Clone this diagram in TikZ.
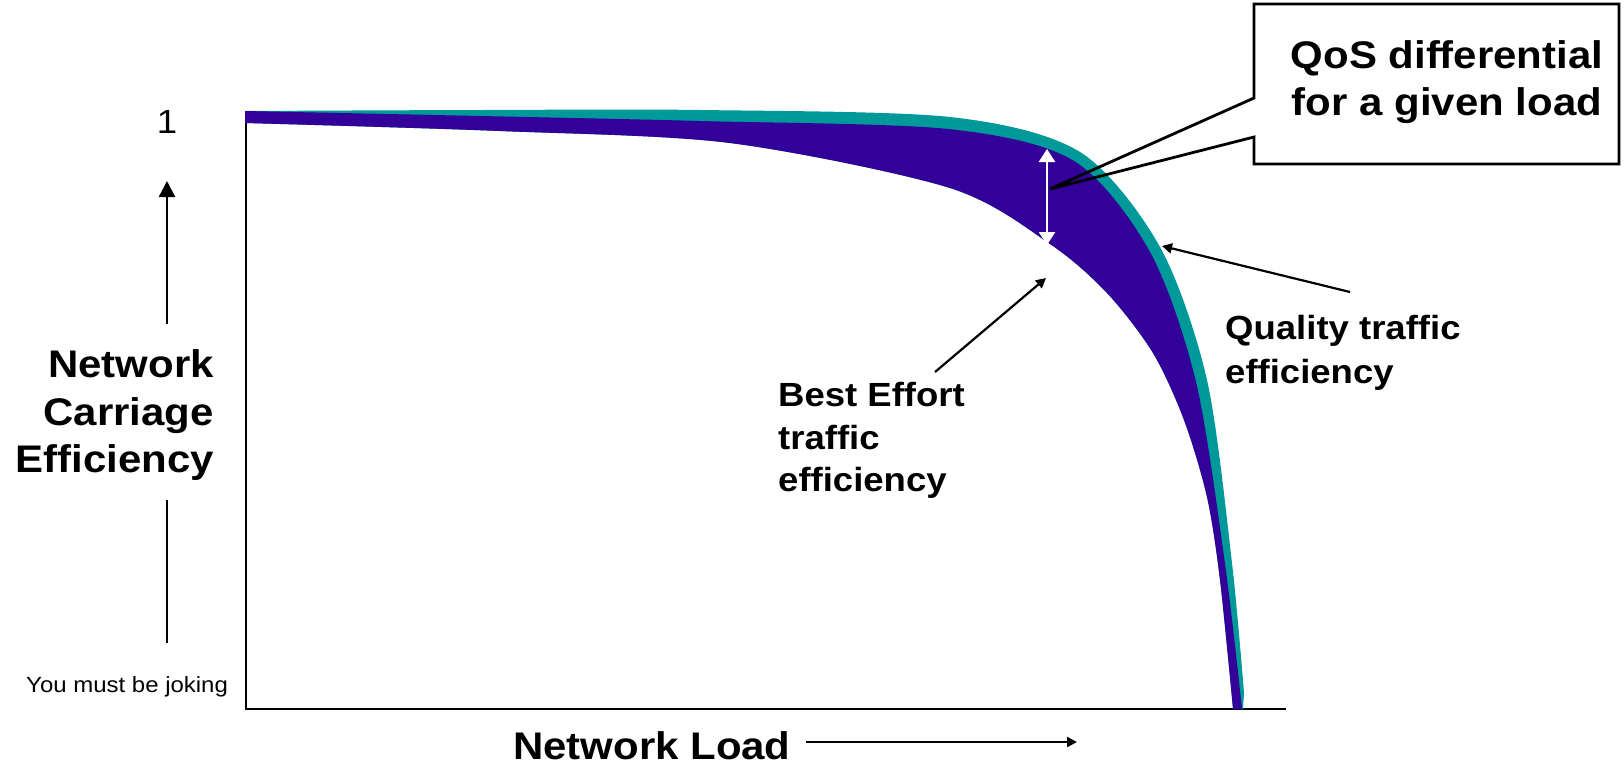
\documentclass[tikz,border=0pt]{standalone}
\usepackage{fontspec}
\setmainfont{Liberation Sans}[FakeStretch=1.09]
\usetikzlibrary{arrows.meta}
\definecolor{bepurple}{HTML}{330099}
\definecolor{qteal}{HTML}{009999}

\begin{document}
\begin{tikzpicture}[x=1pt,y=-1pt,
  axisline/.style={line width=2.6pt},
  pointer/.style={line width=2.2pt,-{Triangle[length=10pt,width=10pt]}},
  bigtext/.style={font=\fontsize{38.5}{47.5}\selectfont\bfseries,inner sep=0pt},
  midtext/.style={font=\fontsize{33.5}{42.5}\selectfont\bfseries,inner sep=0pt},
  calloutline/.style={line width=2.8pt,line join=miter},
]
\useasboundingbox (0,0) rectangle (1624,764);

% axes
\coordinate (origin) at (246,709);
\coordinate (ytop) at (246,117);
\coordinate (xend) at (1286,709);
\draw[axisline] (ytop) -- (origin) -- (xend);

% edges of the two efficiency bands
\def\qualityedge{(245,111) (480,110) (700,110) (950,117) (1080,152)
  (1160,247) (1207,380) (1232,563) (1244,693)}
\def\bestedge{(245,111) (480,116) (700,121) (948,129) (1074,161)
  (1150,252) (1196,382) (1225,564) (1242,709)}
\def\flooredge{(1233,709) (1220,580) (1207,497) (1184,420) (1153,353)
  (1107,293) (1050,244) (950,188) (730,143) (500,131) (245,123)}

% quality traffic band (teal), drawn under the best effort band
\fill[qteal] plot[smooth] coordinates {\qualityedge}
  -- (1243,709) -- plot[smooth] coordinates {\flooredge} -- cycle;

% best effort band (purple)
\fill[bepurple] plot[smooth] coordinates {\bestedge}
  -- plot[smooth] coordinates {\flooredge} -- cycle;

% differential marker
\coordinate (dtop) at (1047,149);
\coordinate (dbot) at (1047,245);
\draw[white,line width=2.5pt,{Triangle[length=13pt,width=16pt]}-{Triangle[length=13pt,width=16pt]}] (dtop) -- (dbot);

% callout box with wedge
\coordinate (qtip) at (1050,189);
\coordinate (bwa) at (1254,98);
\coordinate (bwb) at (1254,137);
\coordinate (bsw) at (1254,164);
\coordinate (bse) at (1619,164);
\coordinate (bne) at (1619,4);
\coordinate (bnw) at (1254,4);
\draw[calloutline] (bwa) -- (qtip) -- (bwb) -- (bsw) -- (bse) -- (bne) -- (bnw) -- cycle;
\node[bigtext,align=center,anchor=north] (qos) at (1447,40) {QoS differential\\for a given load};

% vertical axis caption and arrow
\node[font=\fontsize{33.5}{40}\selectfont,anchor=base,inner sep=0pt] (one) at (167,133) {1};
\node[bigtext,align=right,anchor=north east] (ylabel) at (214,349.4) {Network\\Carriage\\Efficiency};
\coordinate (yarrlow) at (167,643);
\coordinate (yarrgap) at (167,500);
\coordinate (yarrresume) at (167,324);
\coordinate (yarrtip) at (167,181);
\draw[line width=2.4pt] (yarrlow) -- (yarrgap);
\draw[line width=2.4pt,-{Triangle[length=16pt,width=16pt]}] (yarrresume) -- (yarrtip);
\node[font=\fontsize{22}{26}\selectfont,anchor=base west,inner sep=0pt] (joke) at (26,692) {You must be joking};

% horizontal axis caption and arrow
\node[bigtext,anchor=base west] (xlabel) at (513,759) {Network Load};
\coordinate (xarra) at (806,742);
\coordinate (xarrb) at (1077,742);
\draw[pointer] (xarra) -- (xarrb);

% curve labels
\node[midtext,align=left,anchor=north west] (belabel) at (778,382.5) {Best Effort\\traffic\\efficiency};
\coordinate (bestart) at (935,372);
\coordinate (betip) at (1046,278);
\draw[pointer] (bestart) -- (betip);

\node[midtext,align=left,anchor=north west,font=\fontsize{33.5}{44}\selectfont\bfseries] (qlabel) at (1225,315.5) {Quality traffic\\efficiency};
\coordinate (qstart) at (1350,292);
\coordinate (qend) at (1162,246);
\draw[pointer] (qstart) -- (qend);
\end{tikzpicture}
\end{document}
